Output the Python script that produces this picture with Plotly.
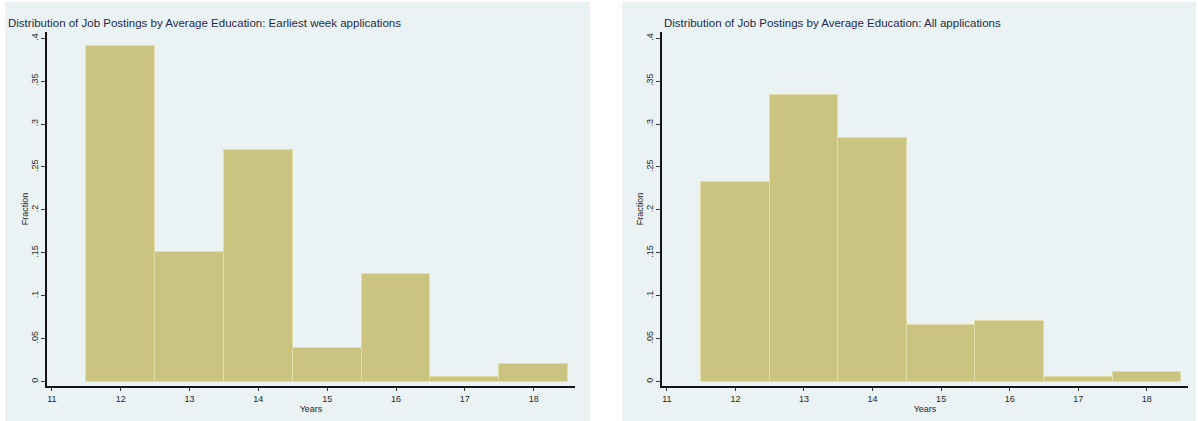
import plotly.graph_objects as go

# Histogram data: fraction of job postings by average years of education
years = [12, 13, 14, 15, 16, 17, 18]
frac_earliest = [0.391, 0.151, 0.270, 0.039, 0.125, 0.005, 0.021]
frac_all = [0.233, 0.334, 0.284, 0.066, 0.071, 0.005, 0.011]

title_left = "Distribution of Job Postings by Average Education: Earliest week applications"
title_right = "Distribution of Job Postings by Average Education: All applications"
x_ticks = [11, 12, 13, 14, 15, 16, 17, 18]
y_ticks = [0, 0.05, 0.1, 0.15, 0.2, 0.25, 0.3, 0.35, 0.4]
y_ticktext = ["0", ".05", ".1", ".15", ".2", ".25", ".3", ".35", ".4"]

W, H = 1198, 421
BG = "rgb(234,242,243)"
BAR = "rgb(203,196,128)"
BAR_EDGE = "rgb(226,222,170)"
TEXT = "rgb(30,42,72)"
FONT = "Liberation Sans, Arial, sans-serif"


def px_x(p):
    return p / W


def px_y(p):
    return 1 - p / H


fig = go.Figure()
fig.add_trace(go.Bar(x=years, y=frac_earliest, width=1, xaxis="x", yaxis="y",
                     marker=dict(color=BAR, line=dict(color=BAR_EDGE, width=1)),
                     showlegend=False))
fig.add_trace(go.Bar(x=years, y=frac_all, width=1, xaxis="x2", yaxis="y2",
                     marker=dict(color=BAR, line=dict(color=BAR_EDGE, width=1)),
                     showlegend=False))

y_dom = [px_y(386), px_y(32)]
common_x = dict(range=[10.93, 18.6], tickvals=x_ticks, showgrid=False, zeroline=False,
                showline=True, linecolor="rgb(20,20,20)", linewidth=1.5,
                ticks="outside", ticklen=3, tickcolor="rgb(60,60,60)",
                tickfont=dict(size=9, color="rgb(40,40,40)", family=FONT),
                title=dict(text="Years", font=dict(size=9, color="rgb(40,40,40)", family=FONT),
                           standoff=0))
common_y = dict(range=[-0.0052, 0.4073], domain=y_dom, tickvals=y_ticks, ticktext=y_ticktext,
                tickangle=-90, showgrid=True, gridcolor=BG, gridwidth=1, zeroline=False,
                showline=True, linecolor="rgb(20,20,20)", linewidth=1.5,
                ticks="outside", ticklen=4, tickcolor="rgb(60,60,60)",
                tickfont=dict(size=9, color="rgb(40,40,40)", family=FONT),
                title=dict(text="Fraction", font=dict(size=9, color="rgb(40,40,40)", family=FONT),
                           standoff=0))

fig.update_layout(
    width=W, height=H, margin=dict(l=0, r=0, t=0, b=0),
    paper_bgcolor="white", plot_bgcolor="white", bargap=0,
    font=dict(family=FONT),
    xaxis=dict(domain=[px_x(47), px_x(575)], anchor="y", **common_x),
    yaxis=dict(anchor="x", **common_y),
    xaxis2=dict(domain=[px_x(662), px_x(1188)], anchor="y2", **common_x),
    yaxis2=dict(anchor="x2", **common_y),
    shapes=[
        dict(type="rect", xref="paper", yref="paper", layer="below",
             x0=px_x(5), x1=px_x(590), y0=px_y(421), y1=px_y(2),
             fillcolor=BG, line=dict(width=0)),
        dict(type="rect", xref="paper", yref="paper", layer="below",
             x0=px_x(622), x1=px_x(1196), y0=px_y(421), y1=px_y(2),
             fillcolor=BG, line=dict(width=0)),
    ],
    annotations=[
        dict(text=title_left, xref="paper", yref="paper", x=px_x(6), y=px_y(23),
             xanchor="left", yanchor="middle", showarrow=False,
             font=dict(size=11.5, color=TEXT, family=FONT)),
        dict(text=title_right, xref="paper", yref="paper", x=px_x(662), y=px_y(23),
             xanchor="left", yanchor="middle", showarrow=False,
             font=dict(size=11.5, color=TEXT, family=FONT)),
    ],
)

fig.write_html("out.html")
